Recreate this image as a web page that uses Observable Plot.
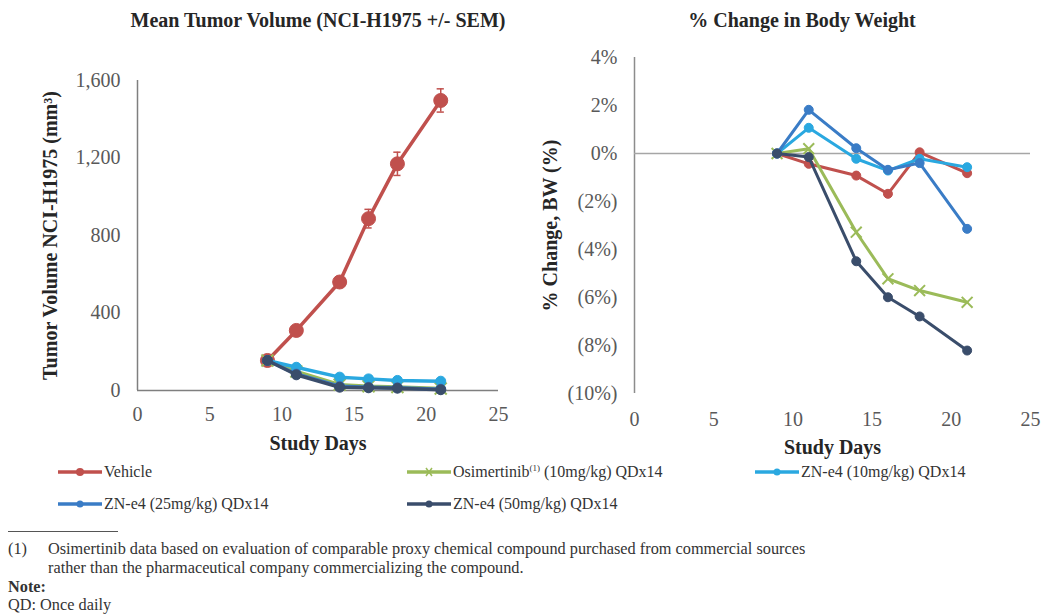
<!DOCTYPE html>
<html><head><meta charset="utf-8">
<script src="https://cdn.jsdelivr.net/npm/d3@7"></script>
<script src="https://cdn.jsdelivr.net/npm/@observablehq/plot@0.6"></script>
<style>
body{margin:0;background:#fff;font-family:"Liberation Serif",serif;}
#wrap{position:relative;width:1042px;height:615px;overflow:hidden;font-family:"Liberation Serif",serif;}
.abs{position:absolute;white-space:nowrap;}
.title{font-weight:bold;font-size:20px;color:#262626;text-align:center;line-height:24px;}
.leg{font-size:16px;color:#333;line-height:20px;}
.foot{font-size:16.3px;color:#333;line-height:18px;}
</style></head><body><div id="wrap"></div>
<script>
// ---- data ----
const days = [9, 11, 14, 16, 18, 21];
const seriesNames = ["Vehicle", "Osimertinib (10mg/kg) QDx14", "ZN-e4 (10mg/kg) QDx14", "ZN-e4 (25mg/kg) QDx14", "ZN-e4 (50mg/kg) QDx14"];
const seriesColors = ["#C0504D", "#9BBB59", "#2AA8E0", "#3A7CC6", "#3A4D6B"];
const seriesSymbols = ["circle", "times", "circle", "circle", "circle"];

// Mean tumor volume (mm3)
const tumorVehicle = [155, 310, 560, 887, 1170, 1497];
const tumorVehicleSEM = [10, 18, 22, 48, 60, 60];
const tumorOsim = [155, 98, 30, 22, 18, 10];
const tumorZN10 = [155, 120, 69, 60, 52, 48];
const tumorZN25 = [155, 85, 22, 17, 14, 7];
const tumorZN50 = [155, 81, 17, 14, 12, 4];

// % change in body weight
const bwVehicle = [0, -0.43, -0.92, -1.68, 0.05, -0.82];
const bwOsim = [0, 0.2, -3.28, -5.22, -5.71, -6.2];
const bwZN10 = [0, 1.07, -0.22, -0.71, -0.22, -0.57];
const bwZN25 = [0, 1.82, 0.22, -0.68, -0.4, -3.14];
const bwZN50 = [0, -0.15, -4.49, -5.99, -6.79, -8.21];

const xTicks = [0, 5, 10, 15, 20, 25];
const tumorTicks = [0, 400, 800, 1200, 1600];
const bwTicks = [4, 2, 0, -2, -4, -6, -8, -10];

const tumorSeries = [tumorVehicle, tumorOsim, tumorZN10, tumorZN25, tumorZN50];
const bwSeries = [bwVehicle, bwOsim, bwZN10, bwZN25, bwZN50];

function rows(seriesArr) {
  return seriesArr.map((vals, i) => days.map((d, j) => ({series: seriesNames[i], day: d, v: vals[j]})));
}
const tumorRows = rows(tumorSeries);
const bwRows = rows(bwSeries);
const semRows = days.map((d, j) => ({day: d, v: tumorVehicle[j], sem: tumorVehicleSEM[j]}));

const wrap = document.getElementById("wrap");
function place(el, left, top) {
  const d = document.createElement("div");
  d.className = "abs"; d.style.left = left + "px"; d.style.top = top + "px";
  d.appendChild(el); wrap.appendChild(d); return d;
}
const baseStyle = {fontFamily: "Liberation Serif, serif", fontSize: "20px", color: "#595959", overflow: "visible", background: "transparent"};

function seriesMarks(data, rDot, rBig, lw) {
  const marks = [];
  data.forEach((rs, i) => {
    marks.push(Plot.line(rs, {x: "day", y: "v", stroke: seriesColors[i], strokeWidth: lw, strokeLinejoin: "round"}));
    if (seriesSymbols[i] === "times") {
      marks.push(Plot.dot(rs, {x: "day", y: "v", symbol: "times", r: rDot + 0.5, stroke: seriesColors[i], strokeWidth: 2}));
    } else {
      marks.push(Plot.dot(rs, {x: "day", y: "v", symbol: "circle", r: i === 0 ? rBig : rDot, fill: seriesColors[i], stroke: seriesColors[i], strokeWidth: 1}));
    }
  });
  return marks;
}

const labelOpts = {text: d => d, fontWeight: "bold", fontSize: 20, fill: "#262626", textAnchor: "middle", lineAnchor: "middle"};

// ---- left chart ----
const left = Plot.plot({
  width: 520, height: 460,
  marginLeft: 137, marginRight: 22, marginTop: 80, marginBottom: 70,
  style: baseStyle,
  x: {domain: [0, 25]},
  y: {domain: [0, 1600]},
  marks: [
    Plot.axisX({ticks: xTicks, tickSize: 0, tickPadding: 16, label: null, fill: "#595959", fontSize: 20}),
    Plot.axisY({ticks: tumorTicks, tickSize: 0, tickPadding: 17, label: null, tickFormat: d3.format(","), fill: "#595959", fontSize: 20}),
    Plot.ruleX([0], {y1: 0, y2: 1600, stroke: "#7f7f7f", strokeWidth: 1.5}),
    Plot.ruleY([0], {x1: 0, x2: 25, stroke: "#7f7f7f", strokeWidth: 1.5}),
    Plot.ruleX(semRows, {x: "day", y1: d => d.v - d.sem, y2: d => d.v + d.sem, stroke: seriesColors[0], strokeWidth: 1.5}),
    Plot.ruleY(semRows, {y: d => d.v - d.sem, x1: d => d.day - 0.25, x2: d => d.day + 0.25, stroke: seriesColors[0], strokeWidth: 1.5}),
    Plot.ruleY(semRows, {y: d => d.v + d.sem, x1: d => d.day - 0.25, x2: d => d.day + 0.25, stroke: seriesColors[0], strokeWidth: 1.5}),
    ...seriesMarks(tumorRows, 5, 7, 3.5),
    Plot.text(["Study Days"], {...labelOpts, frameAnchor: "bottom", dy: 53}),
    Plot.text(["Tumor Volume NCI-H1975 (mm³)"], {...labelOpts, frameAnchor: "left", dx: -87, rotate: -90})
  ]
});
place(left, 0, 0);

// ---- right chart ----
const pctFmt = d => d === 0 ? "0%" : d > 0 ? d + "%" : "(" + (-d) + "%)";
const right = Plot.plot({
  width: 522, height: 470,
  marginLeft: 114, marginRight: 12, marginTop: 57, marginBottom: 77,
  style: baseStyle,
  x: {domain: [0, 25]},
  y: {domain: [-10, 4]},
  marks: [
    Plot.axisX({ticks: xTicks, tickSize: 0, tickPadding: 18, label: null, fill: "#595959", fontSize: 20}),
    Plot.axisY({ticks: bwTicks, tickSize: 0, tickPadding: 17, label: null, tickFormat: pctFmt, fill: "#595959", fontSize: 20}),
    Plot.ruleX([0], {y1: -10, y2: 4, stroke: "#8c8c8c", strokeWidth: 1.5}),
    Plot.ruleY([0], {x1: 0, x2: 25, stroke: "#a6a6a6", strokeWidth: 1.5}),
    ...seriesMarks(bwRows, 4.5, 4.5, 3),
    Plot.text(["Study Days"], {...labelOpts, frameAnchor: "bottom", dy: 54}),
    Plot.text(["% Change, BW (%)"], {...labelOpts, frameAnchor: "left", dx: -84, rotate: -90})
  ]
});
place(right, 520, 0);

// ---- titles ----
function addDiv(html, cls, left, top, width) {
  const d = document.createElement("div");
  d.className = "abs " + cls; d.style.left = left + "px"; d.style.top = top + "px";
  if (width) d.style.width = width + "px";
  d.innerHTML = html; wrap.appendChild(d); return d;
}
addDiv("Mean Tumor Volume (NCI-H1975 +/- SEM)", "title", 18, 8, 600);
addDiv("% Change in Body Weight", "title", 502, 8, 600);

// ---- legend ----
const legendPos = [[58, 472], [407, 472], [755, 472], [58, 504], [407, 504]];
const legendLabels = ["Vehicle", "Osimertinib<sup style=\"font-size:9px;line-height:0;vertical-align:6px\">(1)</sup> (10mg/kg) QDx14", "ZN-e4 (10mg/kg) QDx14", "ZN-e4 (25mg/kg) QDx14", "ZN-e4 (50mg/kg) QDx14"];
seriesNames.forEach((name, i) => {
  const [x, y] = legendPos[i];
  const c = seriesColors[i];
  const marker = seriesSymbols[i] === "times"
    ? `<path d="M19,3 L25,11 M25,3 L19,11" stroke="${c}" stroke-width="1.5"/>`
    : `<circle cx="22" cy="7" r="${i === 0 ? 4 : 3.5}" fill="${c}"/>`;
  const svg = `<svg width="44" height="14" style="display:block"><line x1="0" y1="7" x2="44" y2="7" stroke="${c}" stroke-width="3.5"/>${marker}</svg>`;
  addDiv(svg, "", x, y - 7);
  addDiv(legendLabels[i], "leg", x + 46, y - 10);
});

// ---- footnotes ----
const rule = document.createElement("div");
rule.className = "abs"; rule.style.cssText += "left:8px;top:531px;width:110px;height:1px;background:#555;";
wrap.appendChild(rule);
addDiv("(1)", "foot", 8, 540);
addDiv("Osimertinib data based on evaluation of comparable proxy chemical compound purchased from commercial sources", "foot", 48, 540);
addDiv("rather than the pharmaceutical company commercializing the compound.", "foot", 48, 559);
addDiv("<b>Note:</b>", "foot", 8, 578);
addDiv("QD: Once daily", "foot", 8, 596);
</script>
</body></html>
